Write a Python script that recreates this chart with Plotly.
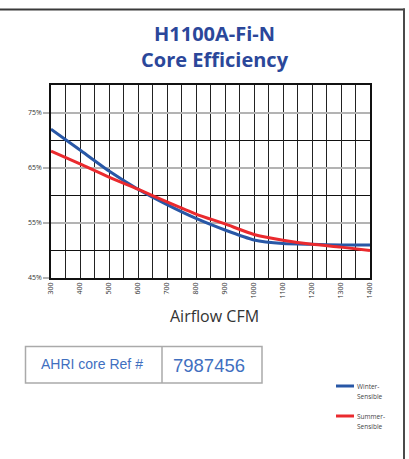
import plotly.graph_objects as go

airflow = [300, 400, 500, 600, 700, 800, 900, 1000, 1100, 1200, 1300, 1400]
winter_sensible = [72.0, 68.2, 64.4, 61.1, 58.3, 55.8, 53.7, 51.9, 51.25, 51.1, 51.0, 51.0]
summer_sensible = [68.0, 65.7, 63.3, 61.1, 58.8, 56.6, 54.8, 52.9, 51.85, 51.1, 50.6, 50.0]
x_ticks = [300, 400, 500, 600, 700, 800, 900, 1000, 1100, 1200, 1300, 1400]
y_ticks = [45, 55, 65, 75]
y_tick_labels = ["45%", "55%", "65%", "75%"]
ahri_label = "AHRI core Ref #"
ahri_ref = "7987456"

W, H = 409, 459
L, R, T, B = 51, 39, 85, 181
PW, PH = W - L - R, H - T - B


def px(x):
    return (x - L) / PW


def py(y):
    return (H - B - y) / PH


BLUE = "#2857a6"
RED = "#ea2a2e"
TITLE = "#2b479a"
TXT_BLUE = "#3f6fbf"

fig = go.Figure()
fig.add_trace(go.Scatter(x=airflow, y=winter_sensible, mode="lines", line=dict(color=BLUE, width=3, shape="spline", smoothing=0.6), name="Winter-Sensible", showlegend=False))
fig.add_trace(go.Scatter(x=airflow, y=summer_sensible, mode="lines", line=dict(color=RED, width=3, shape="spline", smoothing=0.6), name="Summer-Sensible", showlegend=False))

fig.update_layout(
    width=W, height=H,
    margin=dict(l=L, r=R, t=T, b=B, autoexpand=False),
    paper_bgcolor="white", plot_bgcolor="white",
    font=dict(family="Open Sans, sans-serif", color="#333"),
    xaxis=dict(range=[300, 1400], tickvals=x_ticks, ticktext=[str(v) for v in x_ticks],
               tickangle=-90, tickfont=dict(size=7, color="#333"), automargin=False,
               showgrid=True, gridcolor="#222", gridwidth=1,
               minor=dict(dtick=50, tick0=300, showgrid=True, gridcolor="#222", gridwidth=1),
               showline=True, linecolor="#111", linewidth=1.5, mirror=True,
               ticks="", zeroline=False, fixedrange=True),
    yaxis=dict(range=[45, 80], tickvals=y_ticks, ticktext=y_tick_labels,
               tickfont=dict(size=7, color="#333"), automargin=False,
               showgrid=True, gridcolor="#b3b3b3", gridwidth=1.5,
               ticks="outside", ticklen=6, tickcolor="#b3b3b3", tickwidth=1.5,
               minor=dict(dtick=10, tick0=50, showgrid=True, gridcolor="#111", gridwidth=1.2),
               showline=True, linecolor="#111", linewidth=1.5, mirror=True,
               zeroline=False, fixedrange=True),
)

shapes = []
# outer frame (top and right edges visible)
shapes.append(dict(type="line", xref="paper", yref="paper", x0=px(-2), x1=px(405), y0=py(9.5), y1=py(9.5),
                   line=dict(color="#3a3a3a", width=2), layer="above"))
shapes.append(dict(type="line", xref="paper", yref="paper", x0=px(404), x1=px(404), y0=py(465), y1=py(8.5),
                   line=dict(color="#4a4a4a", width=2), layer="above"))
# AHRI table
shapes.append(dict(type="rect", xref="paper", yref="paper", x0=px(25.5), x1=px(262), y0=py(383), y1=py(346.5),
                   line=dict(color="#aaaaaa", width=1.5)))
shapes.append(dict(type="line", xref="paper", yref="paper", x0=px(162), x1=px(162), y0=py(383), y1=py(346.5),
                   line=dict(color="#aaaaaa", width=1.5)))
# legend samples
shapes.append(dict(type="line", xref="paper", yref="paper", x0=px(336), x1=px(354), y0=py(386), y1=py(386),
                   line=dict(color=BLUE, width=3)))
shapes.append(dict(type="line", xref="paper", yref="paper", x0=px(336), x1=px(354), y0=py(416), y1=py(416),
                   line=dict(color=RED, width=3)))
fig.update_layout(shapes=shapes)

ann = []
ann.append(dict(text="<b>H1100A-Fi-N<br>Core Efficiency</b>", x=px(215), y=py(47), xref="paper", yref="paper",
                showarrow=False, align="center",
                font=dict(size=20, color=TITLE, family="Open Sans"), xanchor="center", yanchor="middle"))
ann.append(dict(text="Airflow CFM", x=px(214), y=py(316), xref="paper", yref="paper", showarrow=False,
                font=dict(size=16, color="#333", family="Open Sans"), xanchor="center", yanchor="middle"))
ann.append(dict(text=ahri_label, x=px(92), y=py(364), xref="paper", yref="paper", showarrow=False,
                font=dict(size=14, color=TXT_BLUE, family="Liberation Sans"), xanchor="center", yanchor="middle"))
ann.append(dict(text=ahri_ref, x=px(209), y=py(365), xref="paper", yref="paper", showarrow=False,
                font=dict(size=18.5, color=TXT_BLUE, family="Liberation Sans"), xanchor="center", yanchor="middle"))
for label, yy in [("Winter-", 386), ("Sensible", 396), ("Summer-", 416), ("Sensible", 426)]:
    ann.append(dict(text=label, x=px(354.5), y=py(yy), xref="paper", yref="paper", showarrow=False,
                    font=dict(size=6.5, color="#444", family="Open Sans"), xanchor="left", yanchor="middle"))
fig.update_layout(annotations=ann)

fig.write_html("out.html", config={"displayModeBar": False},
               post_script="document.body.style.margin='0';document.body.style.overflow='hidden';")
